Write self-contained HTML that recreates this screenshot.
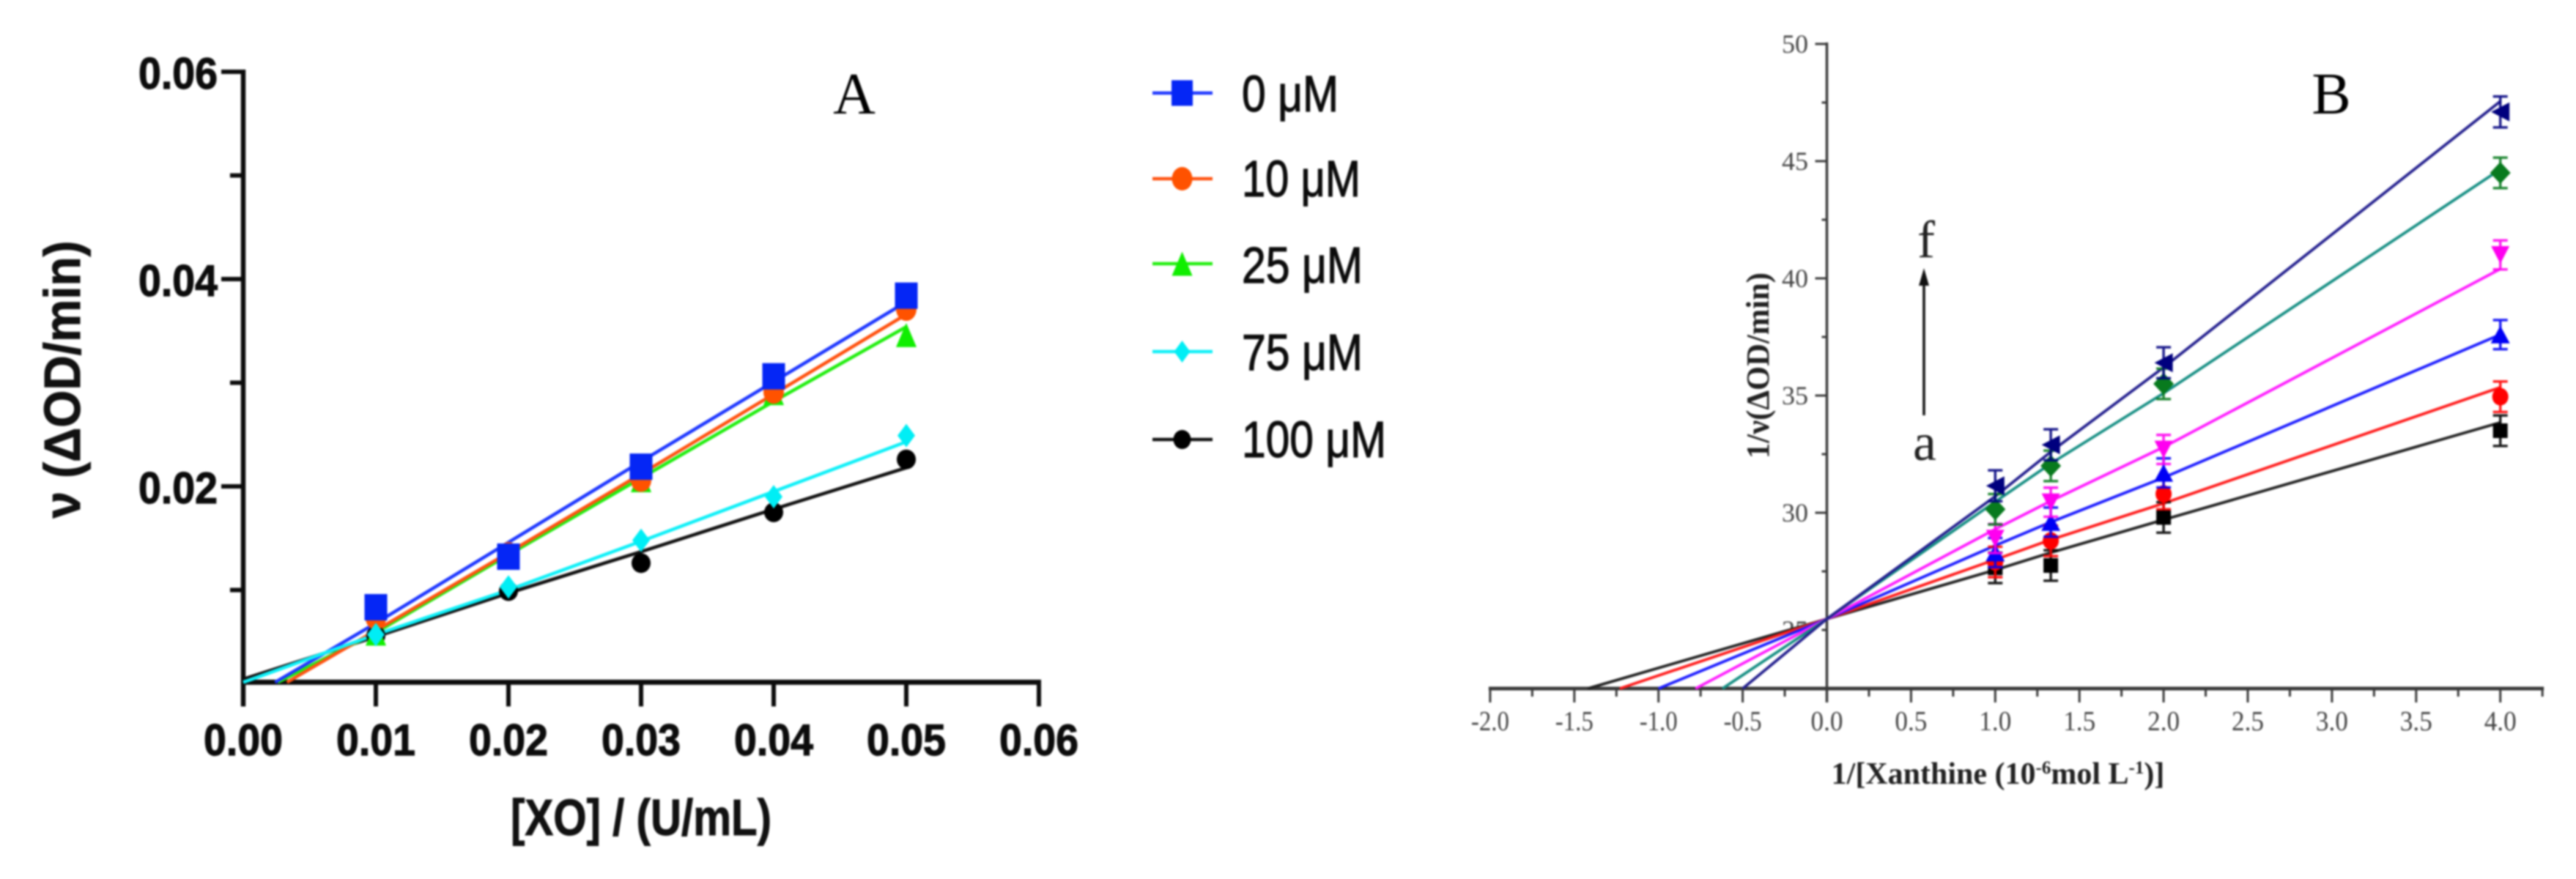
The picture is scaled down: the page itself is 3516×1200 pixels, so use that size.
<!DOCTYPE html>
<html lang="en">
<head>
<meta charset="utf-8">
<title>Enzyme kinetics plots A and B</title>
<style>
  html, body { margin: 0; padding: 0; background: #fff; }
  svg { display: block; }
  .sans { font-family: "Liberation Sans", sans-serif; }
  .serif { font-family: "Liberation Serif", serif; }
</style>
</head>
<body>
<svg id="figure" xmlns="http://www.w3.org/2000/svg" width="3516" height="1200" viewBox="0 0 3516 1200">
  <defs>
    <filter id="softA" filterUnits="userSpaceOnUse" x="0" y="0" width="3516" height="1200" color-interpolation-filters="sRGB"><feGaussianBlur stdDeviation="1.2"/></filter>
    <filter id="softB" filterUnits="userSpaceOnUse" x="0" y="0" width="3516" height="1200" color-interpolation-filters="sRGB"><feGaussianBlur stdDeviation="1.2"/></filter>
    <clipPath id="clip25"><rect x="2420" y="830" width="60" height="31"/></clipPath>
  </defs>
  <rect width="3516" height="1200" fill="#fff"/>

  <g id="panelA" filter="url(#softA)">
    <text class="sans" x="109" y="518" transform="rotate(-90 109 518)" text-anchor="middle" font-size="70" font-weight="700" fill="#111" stroke="#111" stroke-width="1" textLength="379" lengthAdjust="spacingAndGlyphs">ν (ΔOD/min)</text>
    <text class="sans" x="875" y="1140" text-anchor="middle" font-size="70" font-weight="700" fill="#111" stroke="#111" stroke-width="1" textLength="356" lengthAdjust="spacingAndGlyphs">[XO] / (U/mL)</text>
    <text class="serif" x="1166" y="155" text-anchor="middle" font-size="80" fill="#000">A</text>
    <g id="axesA"></g>
    <g id="seriesA"></g>
    <g id="legendA"></g>
  </g>

  <g id="panelB" filter="url(#softB)">
    <text class="serif" x="2414" y="499" transform="rotate(-90 2414 499)" text-anchor="middle" font-size="44" font-weight="700" fill="#222" textLength="254" lengthAdjust="spacingAndGlyphs">1/ν(ΔOD/min)</text>
    <text class="serif" x="2727" y="1070" text-anchor="middle" font-size="42" font-weight="700" fill="#222">1/[Xanthine (10<tspan dy="-14" font-size="25">-6</tspan><tspan dy="14">mol L</tspan><tspan dy="-14" font-size="25">-1</tspan><tspan dy="14">)]</tspan></text>
    <text class="serif" x="3182" y="155" text-anchor="middle" font-size="80" fill="#000">B</text>
    <text class="serif" x="2629" y="351" text-anchor="middle" font-size="72" fill="#222">f</text>
    <text class="serif" x="2627" y="628" text-anchor="middle" font-size="72" fill="#222">a</text>
    <line x1="2626" y1="567" x2="2626" y2="384" stroke="#111" stroke-width="3.5"/>
    <polygon points="2626,366 2619,390 2633,390" fill="#111"/>
    <g id="axesB"></g>
    <g id="seriesB"></g>
  </g>
</svg>

<script>
/* ---------- Panel A data ---------- */
const aXLevels = [0.01, 0.02, 0.03, 0.04, 0.05];
const aXTickValues = [0, 0.01, 0.02, 0.03, 0.04, 0.05, 0.06];
const aXTickLabels = ["0.00", "0.01", "0.02", "0.03", "0.04", "0.05", "0.06"];
const aYMajorValues = [0.02, 0.04, 0.06];
const aYMajorLabels = ["0.02", "0.04", "0.06"];
const aYMinorValues = [0.01, 0.03, 0.05];
const aAxisFloor = 0.0011;

const aBlackMarks = [0.0056, 0.0099, 0.0126, 0.0175, 0.0226];
const aGreenMarks = [0.0058, 0.0135, 0.0206, 0.0290, 0.0346];
const aOrangeMarks = [0.0073, 0.0135, 0.0206, 0.0291, 0.0371];
const aBlueMarks = [0.00834, 0.01322, 0.0219, 0.03062, 0.0384];
const aCyanMarks = [0.0057, 0.0103, 0.0148, 0.0190, 0.0249];

const aBlackFit = [0.0014, 0.0055, 0.0097, 0.0137, 0.0178, 0.0218];
const aGreenFit = [0.0011, 0.0059, 0.0134, 0.0208, 0.0282, 0.0354];
const aOrangeFit = [0.0011, 0.0061, 0.0136, 0.0212, 0.0289, 0.0366];
const aBlueFit = [0.0011, 0.0068, 0.0146, 0.0224, 0.0301, 0.0378];
const aCyanFit = [0.0011, 0.0057, 0.0100, 0.0147, 0.0195, 0.0243];

const aFitStarts = [0, 0.0026, 0.0033, 0.0024, 0];
const legendNames = ["0 μM", "10 μM", "25 μM", "75 μM", "100 μM"];

/* ---------- Panel B data ---------- */
const bXLevels = [1, 1.33, 2, 4];
const bFitXs = [0, 1, 1.33, 2, 4];
const bXMajorLabels = ["-2.0", "-1.5", "-1.0", "-0.5", "0.0", "0.5", "1.0", "1.5", "2.0", "2.5", "3.0", "3.5", "4.0"];
const bXMajorValues = [-2, -1.5, -1, -0.5, 0, 0.5, 1, 1.5, 2, 2.5, 3, 3.5, 4];
const bXMinorValues = [-1.75, -1.25, -0.75, -0.25, 0.25, 0.75, 1.25, 1.75, 2.25, 2.75, 3.25, 3.75, 4.25];
const bYMajorValues = [30, 35, 40, 45, 50];
const bYMajorLabels = ["30", "35", "40", "45", "50"];
const bYMinorValues = [25, 27.5, 32.5, 37.5, 42.5, 47.5];
const bAxisFloor = 22.5;
const bCrossValue = 25.47;

const bBlackMarks = [27.65, 27.75, 29.8, 33.5];
const bRedMarks = [27.9, 28.8, 30.8, 34.95];
const bBlueMarks = [28.3, 29.6, 31.7, 37.6];
const bMagentaMarks = [28.9, 30.45, 32.7, 41.0];
const bGreenMarks = [30.15, 32.0, 35.5, 44.5];
const bNavyMarks = [31.15, 32.9, 36.4, 47.1];

const bBlackFit = [25.47, 27.56, 28.3, 29.7, 33.85];
const bRedFit = [25.47, 28.0, 28.85, 30.4, 35.35];
const bBlueFit = [25.47, 28.6, 29.6, 31.5, 37.6];
const bMagentaFit = [25.47, 29.3, 30.5, 32.8, 40.4];
const bTealFit = [25.47, 30.47, 32.1, 35.1, 44.65];
const bNavyFit = [25.47, 30.7, 32.6, 36.2, 47.55];

const bXIntercepts = [-1.42, -1.23, -1.0, -0.78, -0.62, -0.5];
const bErrors = [0.65, 0.65, 0.62, 0.62, 0.65, 0.66];

/* ---------- Scales ---------- */
function xA(v) { return 332 + v * 18100; }
function yA(v) { return 947 - v * 14150; }
function xB(v) { return 2493.5 + v * 229.8; }
function yB(v) { return 860 - (v - 25) * 32; }

/* ---------- Drawing helpers ---------- */
const NS = "http://www.w3.org/2000/svg";
function make(parent, tag, attrs, text) {
  const el = document.createElementNS(NS, tag);
  for (const k in attrs) el.setAttribute(k, attrs[k]);
  if (text !== undefined) el.textContent = text;
  parent.appendChild(el);
  return el;
}
function markerShape(parent, shape, cx, cy, w, h, color) {
  const hw = w / 2, hh = h / 2;
  if (shape === "square") return make(parent, "rect", { x: cx - hw, y: cy - hh, width: w, height: h, fill: color });
  if (shape === "circle") return make(parent, "ellipse", { cx: cx, cy: cy, rx: hw, ry: hh, fill: color });
  let pts;
  if (shape === "up") pts = [[cx, cy - hh], [cx + hw, cy + hh], [cx - hw, cy + hh]];
  if (shape === "down") pts = [[cx - hw, cy - hh], [cx + hw, cy - hh], [cx, cy + hh]];
  if (shape === "left") pts = [[cx - hw, cy], [cx + hw, cy - hh], [cx + hw, cy + hh]];
  if (shape === "diamond") pts = [[cx, cy - hh], [cx + hw, cy], [cx, cy + hh], [cx - hw, cy]];
  return make(parent, "polygon", { points: pts.map(p => p.join(",")).join(" "), fill: color });
}

/* ---------- Panel A axes ---------- */
const axesA = document.getElementById("axesA");
const axisAColor = "#0c0c0c";
const axisALeft = xA(0), axisABottom = yA(aAxisFloor);

const yAxisLineA = make(axesA, "line", { x1: axisALeft, y1: yA(0.06) - 3, x2: axisALeft, y2: axisABottom + 33, stroke: axisAColor, "stroke-width": 6.5 });


const xAxisLineA = make(axesA, "line", { x1: axisALeft, y1: axisABottom, x2: xA(0.06) + 3, y2: axisABottom, stroke: axisAColor, "stroke-width": 7 });



aXTickValues.forEach(function (v, i) {
  const tick = make(axesA, "line", { x1: xA(v), y1: axisABottom, x2: xA(v), y2: axisABottom + 33, stroke: axisAColor, "stroke-width": 6 });
  
  
  const label = make(axesA, "text", { x: xA(v), y: 1031, "text-anchor": "middle", "font-size": 60, "font-weight": 700, fill: "#0c0c0c", stroke: "#0c0c0c", "stroke-width": 1.2, class: "sans", textLength: 108, lengthAdjust: "spacingAndGlyphs" }, aXTickLabels[i]);
  
  
});
aYMajorValues.forEach(function (v, i) {
  const tick = make(axesA, "line", { x1: 302, y1: yA(v), x2: axisALeft, y2: yA(v), stroke: axisAColor, "stroke-width": 6 });
  
  
  const label = make(axesA, "text", { x: 297, y: yA(v) + 23, "text-anchor": "end", "font-size": 60, "font-weight": 700, fill: "#0c0c0c", stroke: "#0c0c0c", "stroke-width": 1.2, class: "sans", textLength: 108, lengthAdjust: "spacingAndGlyphs" }, aYMajorLabels[i]);
  
  
});
aYMinorValues.forEach(function (v) {
  const tick = make(axesA, "line", { x1: 314, y1: yA(v), x2: axisALeft, y2: yA(v), stroke: axisAColor, "stroke-width": 6 });
  
  
});

/* ---------- Panel A series (draw order back to front) ---------- */
const aSeriesOrder = [
  { key: "100-um", marks: aBlackMarks, fit: aBlackFit, start: aFitStarts[0], line: "#111", fill: "#000", shape: "circle", w: 26, h: 27 },
  { key: "25-um", marks: aGreenMarks, fit: aGreenFit, start: aFitStarts[1], line: "#22ee10", fill: "#10ee00", shape: "up", w: 28, h: 33 },
  { key: "10-um", marks: aOrangeMarks, fit: aOrangeFit, start: aFitStarts[2], line: "#ff5210", fill: "#ff5200", shape: "circle", w: 28, h: 32 },
  { key: "0-um", marks: aBlueMarks, fit: aBlueFit, start: aFitStarts[3], line: "#1f38ff", fill: "#0526f5", shape: "square", w: 31, h: 36 },
  { key: "75-um", marks: aCyanMarks, fit: aCyanFit, start: aFitStarts[4], line: "#10f0f8", fill: "#00eef5", shape: "diamond", w: 24, h: 32 }
];
const seriesA = document.getElementById("seriesA");
aSeriesOrder.forEach(function (s) {
  const xs = [s.start].concat(aXLevels);
  const pts = s.fit.map(function (v, i) { return xA(xs[i]) + "," + yA(v); }).join(" ");
  const line = make(seriesA, "polyline", { points: pts, fill: "none", stroke: s.line, "stroke-width": 4.6, "stroke-linejoin": "round" });
  
  
});
aSeriesOrder.forEach(function (s) {
  s.marks.forEach(function (v, i) {
    const m = markerShape(seriesA, s.shape, xA(aXLevels[i]), yA(v), s.w, s.h, s.fill);
    
    
  });
});

/* ---------- Legend ---------- */
const legendA = document.getElementById("legendA");
const legendRows = [
  { line: "#1f38ff", fill: "#0526f5", shape: "square", w: 29, h: 35, cy: 127, base: 152, len: 132 },
  { line: "#ff5210", fill: "#ff5200", shape: "circle", w: 28, h: 32, cy: 244, base: 268, len: 162 },
  { line: "#22ee10", fill: "#10ee00", shape: "up", w: 28, h: 33, cy: 360, base: 386, len: 165 },
  { line: "#10f0f8", fill: "#00eef5", shape: "diamond", w: 22, h: 30, cy: 480, base: 505, len: 165 },
  { line: "#111", fill: "#000", shape: "circle", w: 24, h: 26, cy: 600, base: 624, len: 197 }
];
legendRows.forEach(function (r, i) {
  const line = make(legendA, "line", { x1: 1573, y1: r.cy, x2: 1655, y2: r.cy, stroke: r.line, "stroke-width": 4.4 });
  
  
  const m = markerShape(legendA, r.shape, 1613.5, r.cy, r.w, r.h, r.fill);
  
  
  const t = make(legendA, "text", { x: 1695, y: r.base, "font-size": 70, fill: "#0c0c0c", stroke: "#0c0c0c", "stroke-width": 1.2, class: "sans", textLength: r.len, lengthAdjust: "spacingAndGlyphs" }, legendNames[i]);
  
  
});

/* ---------- Panel B axes ---------- */
const axesB = document.getElementById("axesB");
const axisBColor = "#3a3a3a";
const axisBBottom = yB(bAxisFloor);

const yAxisLineB = make(axesB, "line", { x1: xB(0), y1: yB(50) - 2, x2: xB(0), y2: axisBBottom + 19, stroke: axisBColor, "stroke-width": 3.5 });


const xAxisLineB = make(axesB, "line", { x1: xB(-2) - 2, y1: axisBBottom, x2: xB(4.25) + 2, y2: axisBBottom, stroke: axisBColor, "stroke-width": 5 });



bXMajorValues.forEach(function (v, i) {
  const tick = make(axesB, "line", { x1: xB(v), y1: axisBBottom, x2: xB(v), y2: axisBBottom + 19, stroke: axisBColor, "stroke-width": 3 });
  
  
  const label = make(axesB, "text", { x: xB(v), y: 997, "text-anchor": "middle", "font-size": 38, fill: "#444", class: "serif", textLength: v < 0 ? 52 : 44, lengthAdjust: "spacingAndGlyphs" }, bXMajorLabels[i]);
  
  
});
bXMinorValues.forEach(function (v) {
  const tick = make(axesB, "line", { x1: xB(v), y1: axisBBottom, x2: xB(v), y2: axisBBottom + 11, stroke: axisBColor, "stroke-width": 3 });
  
  
});
bYMajorValues.forEach(function (v, i) {
  const tick = make(axesB, "line", { x1: xB(0) - 16, y1: yB(v), x2: xB(0), y2: yB(v), stroke: axisBColor, "stroke-width": 3 });
  
  
  const label = make(axesB, "text", { x: 2468, y: yB(v) + 12, "text-anchor": "end", "font-size": 36, fill: "#444", class: "serif" }, bYMajorLabels[i]);
  
  
});
bYMinorValues.forEach(function (v) {
  const tick = make(axesB, "line", { x1: xB(0) - 7, y1: yB(v), x2: xB(0), y2: yB(v), stroke: axisBColor, "stroke-width": 3 });
  
  
});
const label25 = make(axesB, "text", { x: 2468, y: yB(25) + 12, "text-anchor": "end", "font-size": 36, fill: "#444", class: "serif", "clip-path": "url(#clip25)" }, "25");



/* ---------- Panel B series ---------- */
const bSeriesOrder = [
  { key: "curve-a", marks: bBlackMarks, fit: bBlackFit, line: "#222", fill: "#000", shape: "square", w: 20, h: 20 },
  { key: "curve-b", marks: bRedMarks, fit: bRedFit, line: "#ff1c1c", fill: "#f00", shape: "circle", w: 22, h: 24 },
  { key: "curve-c", marks: bBlueMarks, fit: bBlueFit, line: "#1c1cff", fill: "#0000f5", shape: "up", w: 26, h: 24 },
  { key: "curve-d", marks: bMagentaMarks, fit: bMagentaFit, line: "#ff1cff", fill: "#ff00f0", shape: "down", w: 25, h: 24 },
  { key: "curve-e", marks: bGreenMarks, fit: bTealFit, line: "#178f84", fill: "#087a1e", shape: "diamond", w: 28, h: 30 },
  { key: "curve-f", marks: bNavyMarks, fit: bNavyFit, line: "#25218f", fill: "#00007e", shape: "left", w: 25, h: 26 }
];
const seriesB = document.getElementById("seriesB");
bSeriesOrder.forEach(function (s, si) {
  const start = xB(bXIntercepts[si]) + "," + yB(bAxisFloor);
  const pts = s.fit.map(function (v, i) { return xB(bFitXs[i]) + "," + yB(v); }).join(" ");
  const line = make(seriesB, "polyline", { points: start + " " + pts, fill: "none", stroke: s.line, "stroke-width": 3.8, "stroke-linejoin": "round" });
  
  
});
bSeriesOrder.forEach(function (s, si) {
  s.marks.forEach(function (v, i) {
    const cx = xB(bXLevels[i]);
    const hi = yB(v + bErrors[si]), lo = yB(v - bErrors[si]);
    const bar = make(seriesB, "path", {
      d: "M" + cx + " " + hi + "V" + lo + "M" + (cx - 10) + " " + hi + "H" + (cx + 10) + "M" + (cx - 10) + " " + lo + "H" + (cx + 10),
      fill: "none", stroke: s.fill, "stroke-width": 3.4, opacity: 0.9
    });
    
    
    const m = markerShape(seriesB, s.shape, cx, yB(v), s.w, s.h, s.fill);
    
    
  });
});
</script>
</body>
</html>
